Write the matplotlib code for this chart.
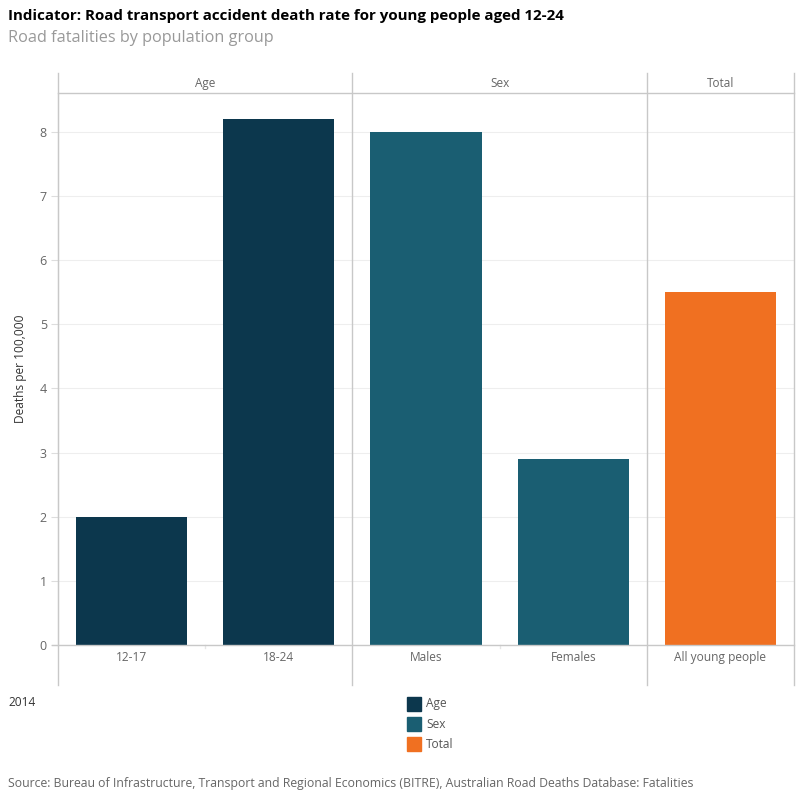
import matplotlib.pyplot as plt
from matplotlib.patches import Rectangle
from matplotlib.lines import Line2D

plt.rcParams['font.family'] = ['Open Sans', 'DejaVu Sans']

# data
categories = ["12-17", "18-24", "Males", "Females", "All young people"]
groups = ["Age", "Age", "Sex", "Sex", "Total"]
values = [2.0, 8.2, 8.0, 2.9, 5.5]
panel_names = ["Age", "Sex", "Total"]
panel_colors = {"Age": "#0c374d", "Sex": "#1a5e72", "Total": "#f07021"}

W, H = 800, 800
fig = plt.figure(figsize=(8, 8), dpi=100)

def fx(px):
    return px / W

def fy(py):
    return 1 - py / H

ax = fig.add_axes([fx(58), fy(645), fx(794) - fx(58), fy(93) - fy(645)])
x = list(range(len(categories)))
ax.bar(x, values, width=0.755, color=[panel_colors[g] for g in groups], zorder=3)
ax.set_xlim(-0.5, len(categories) - 0.5)
ax.set_ylim(0, 8.608)
ax.set_yticks(range(0, 9))
ax.tick_params(axis='y', length=5, color="#dddddd", labelcolor="#666666", labelsize=9, pad=3)
ax.tick_params(axis='x', length=0, labelbottom=False)
for s in ["top", "right", "bottom"]:
    ax.spines[s].set_visible(False)
ax.spines["left"].set_color("#c8c8c8")
ax.grid(axis='y', color="#eeeeee", linewidth=0.8, zorder=0)
fig.text(fx(21), fy(369), "Deaths per 100,000", rotation=90, fontsize=8.6, color="#333333",
         ha='center', va='center')

# frame lines (header band, baseline, separators)
line_col = "#c8c8c8"
fig.add_artist(Line2D([fx(58), fx(794)], [fy(93), fy(93)], color=line_col, lw=1))
fig.add_artist(Line2D([fx(52), fx(794)], [fy(645), fy(645)], color=line_col, lw=1))
fig.add_artist(Line2D([fx(58), fx(58)], [fy(73), fy(685)], color=line_col, lw=1))
fig.add_artist(Line2D([fx(794), fx(794)], [fy(73), fy(685)], color=line_col, lw=1))

# panel headers and separators, positioned from category groups
trans = ax.get_xaxis_transform()
for name in panel_names:
    idx = [i for i, g in enumerate(groups) if g == name]
    left, right = idx[0] - 0.5, idx[-1] + 0.5
    ax.text((left + right) / 2, 1.018, name, transform=trans, ha='center', va='center',
            fontsize=8.5, color="#666666", clip_on=False)
    if right < len(categories) - 0.5:
        ax.plot([right, right], [-0.073, 1.036], transform=trans, color=line_col, lw=1, clip_on=False)

# light tick between categories inside a panel
for i in range(len(categories) - 1):
    if groups[i] == groups[i + 1]:
        ax.plot([i + 0.5, i + 0.5], [-0.006, 0], transform=trans, color="#e6e6e6", lw=1, clip_on=False)

for i, c in enumerate(categories):
    ax.text(i, -0.023, c, transform=trans, ha='center', va='center', fontsize=8.6, color="#666666")

# titles
fig.text(fx(8), fy(16), "Indicator: Road transport accident death rate for young people aged 12-24",
         fontsize=10.9, fontweight='bold', color="#000000", va='center', ha='left')
fig.text(fx(8), fy(38), "Road fatalities by population group",
         fontsize=11.7, color="#999999", va='center', ha='left')

fig.text(fx(8), fy(703), "2014", fontsize=8.6, color="#333333", va='center', ha='left')

# legend
for k, name in enumerate(panel_names):
    yc = 704 + k * 20
    fig.add_artist(Rectangle((fx(407), fy(yc + 7)), fx(14), 14 / H,
                             color=panel_colors[name], transform=fig.transFigure))
    fig.text(fx(426), fy(yc), name, fontsize=8.6, color="#555555", va='center', ha='left')

fig.text(fx(8), fy(783), "Source: Bureau of Infrastructure, Transport and Regional Economics (BITRE), "
         "Australian Road Deaths Database: Fatalities", fontsize=8.8, color="#666666",
         va='center', ha='left')

fig.savefig("out.png", dpi=100, facecolor="white")
